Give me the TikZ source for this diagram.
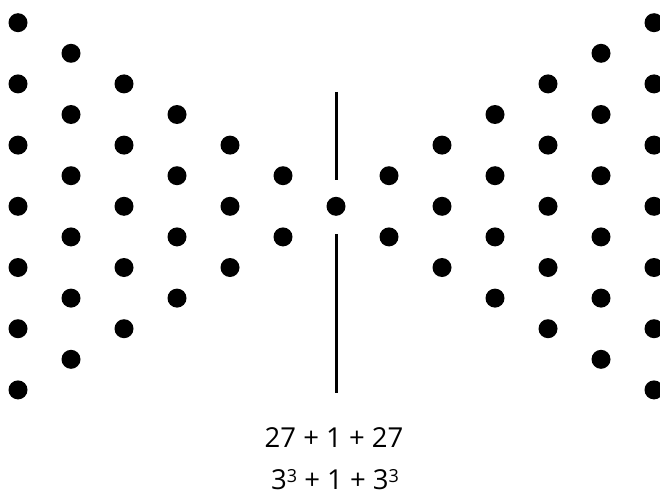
\documentclass[tikz,border=0pt]{standalone}
\usepackage{fontspec}
\setmainfont{Open Sans}
\newcommand{\cubesup}{\raisebox{6.8pt}{\fontsize{18}{18}\selectfont 3}}
\begin{document}
\begin{tikzpicture}[x=1pt,y=-1pt,
  dot/.style={circle,fill=black,inner sep=0pt,minimum size=19pt},
  axisline/.style={line width=3pt,black},
  label/.style={anchor=base,inner sep=0pt,font=\fontsize{27.5}{30}\selectfont}]
\useasboundingbox (0,0) rectangle (660,492);
\foreach \c in {0,...,12}{
  \foreach \r in {0,...,12}{
    \pgfmathtruncatemacro\ok{(abs(\r-6)<=abs(\c-6)) && (mod(abs(\r-\c),2)==0) ? 1 : 0}
    \ifnum\ok=1
      \node[dot] (d-\c-\r) at ({18+53*\c},{22.7+30.6*\r}) {};
    \fi
  }
}
\coordinate (t1) at (336,92);
\coordinate (b1) at (336,180);
\coordinate (t2) at (336,234);
\coordinate (b2) at (336,393);
\draw[axisline] (t1) -- (b1);
\draw[axisline] (t2) -- (b2);
\node[label] (sum) at (334,447) {27 + 1 + 27};
\node[label] (cube) at (335,489) {3\cubesup{} + 1 + 3\cubesup};
\end{tikzpicture}
\end{document}
